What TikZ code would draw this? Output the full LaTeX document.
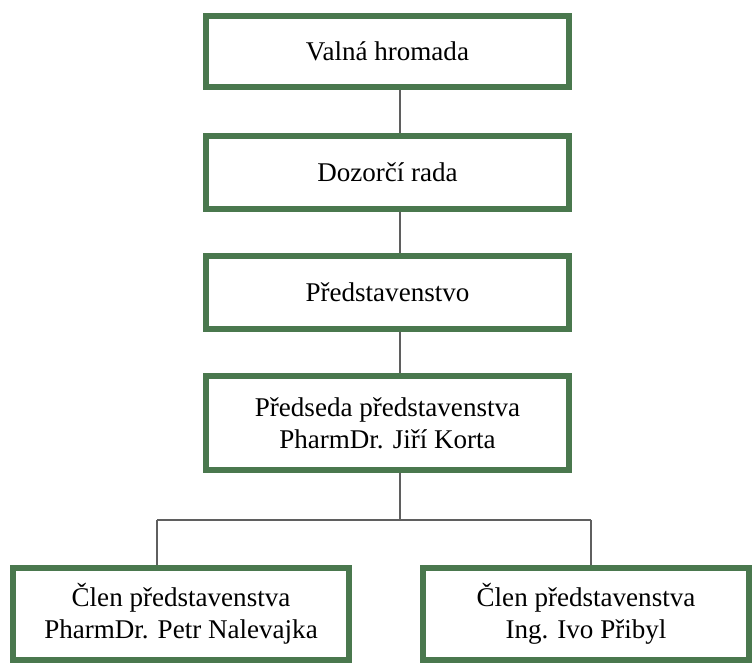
\documentclass[tikz,border=0pt]{standalone}
\usepackage{fontspec}
\setmainfont{Liberation Serif}
\usetikzlibrary{calc}
\definecolor{boxgreen}{RGB}{74,120,78}
\definecolor{linegray}{RGB}{95,95,95}
\tikzset{
  unit/.style={draw=boxgreen, line width=3.4pt, fill=white, align=center,
    font=\fontsize{15.4}{18}\selectfont, inner sep=0pt},
  link/.style={draw=linegray, line width=1.1pt}
}

\begin{document}
\begin{tikzpicture}[x=0.02cm,y=-0.02cm]
          \useasboundingbox (0,0) rectangle (752,665);
          % boxes
          \node[unit, minimum width=7.26cm, minimum height=1.42cm] (valna) at (387.5,51.5) {Valná hromada};
          \node[unit, minimum width=7.26cm, minimum height=1.46cm] (dozor) at (387.5,172.5) {Dozorčí rada};
          \node[unit, minimum width=7.26cm, minimum height=1.46cm] (pred) at (387.5,292.5) {Představenstvo};
          \node[unit, minimum width=7.26cm, minimum height=1.88cm] (predseda) at (387.5,423) {Předseda představenstva\\PharmDr. Jiří Korta};
          \node[unit, minimum width=6.72cm, minimum height=1.84cm] (clenA) at (181,614) {Člen představenstva\\PharmDr. Petr Nalevajka};
          \node[unit, minimum width=6.52cm, minimum height=1.84cm] (clenB) at (586,614) {Člen představenstva\\Ing. Ivo Přibyl};
          % joints
          \coordinate (trunk) at (400,0);
          \coordinate (busA) at (157,520);
          \coordinate (busB) at (591,520);
          % lines
          \draw[link] (valna.south -| trunk) -- (dozor.north -| trunk);
          \draw[link] (dozor.south -| trunk) -- (pred.north -| trunk);
          \draw[link] (pred.south -| trunk) -- (predseda.north -| trunk);
          \draw[link] (predseda.south -| trunk) -- (busA -| trunk);
          \draw[link] (busA) -- (busB);
          \draw[link] (busA) -- (clenA.north -| busA);
          \draw[link] (busB) -- (clenB.north -| busB);
        \end{tikzpicture}
\end{document}
